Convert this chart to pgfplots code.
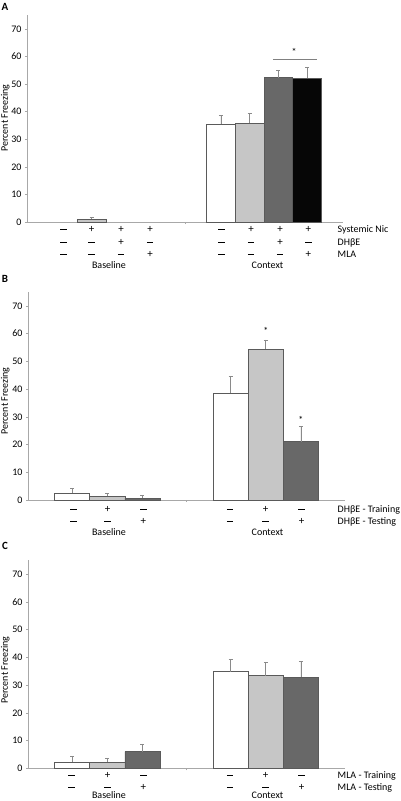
\documentclass[border=0pt]{standalone}
\usepackage{fontspec}
\setmainfont{Carlito}
\usepackage{pgfplots}
\pgfplotsset{compat=1.18}
\definecolor{lgray}{HTML}{C6C6C6}
\definecolor{dgray}{HTML}{686868}
\definecolor{nblack}{HTML}{060606}
\definecolor{edge}{HTML}{5A5A5A}
\definecolor{axgray}{HTML}{A8A8A8}
\definecolor{errgray}{HTML}{8A8A8A}
\newcommand\tf{\fontsize{10}{12}\selectfont}
\newcommand\mn{\rule[3.3pt]{6.5pt}{0.5pt}}
\newcommand\pl{\fontsize{11}{12}\selectfont +}
\pgfplotsset{
 panel/.style={
  scale only axis, anchor=south west, ymin=0, ymax=75,
  axis lines*=left, axis line style={axgray, line width=0.6pt},
  ytick={0,10,...,70}, tick style={axgray, line width=0.5pt}, tick align=outside, major tick length=2pt,
  xtick=\empty, extra x ticks={0}, extra x tick labels={},
  yticklabel style={font=\tf},
  /pgf/number format/assume math mode=true,
  ybar, bar width=1, clip=false,
 },
 bars/.style={draw=edge, line width=0.6pt, bar shift=0pt,
   error bars/.cd, y dir=plus, y explicit, error bar style={errgray, line width=0.6pt}},
}
\tikzset{pm/.style={anchor=center, text height=1.5ex, text depth=0.25ex, inner sep=0pt, font=\tf},
  gl/.style={anchor=base, inner sep=0pt, font=\tf},
  rl/.style={anchor=west, text height=1.5ex, text depth=0.25ex, inner sep=0pt, font=\tf}}
\begin{document}
\begin{tikzpicture}
\path[use as bounding box] (0pt,0pt) rectangle (400pt,-801pt);
% ---------- Panel A
\begin{axis}[panel, at={(27pt,-222pt)}, width=316pt, height=207pt, xmin=0, xmax=11,
  extra x ticks={5.5}]
\addplot[fill=white, bars] coordinates {(6.75,35.4) +- (0,3.3)};
\addplot[fill=lgray, bars] coordinates {(2.25,1.0) +- (0,0.8) (7.75,35.8) +- (0,3.6)};
\addplot[fill=dgray, bars] coordinates {(8.75,52.3) +- (0,2.6)};
\addplot[fill=nblack, bars] coordinates {(9.75,52.0) +- (0,4.0)};
\draw[gray, line width=0.6pt] (axis cs:8.56,58.9) -- (axis cs:10.09,58.9);
\node[font=\tf] at (axis cs:9.3,61.6) {*};
\end{axis}
% ---------- Panel B
\begin{axis}[panel, at={(28pt,-500pt)}, width=317pt, height=208pt, xmin=0, xmax=9,
  extra x ticks={4.5}]
\addplot[fill=white, bars] coordinates {(1.25,2.4) +- (0,1.8) (5.75,38.6) +- (0,6.1)};
\addplot[fill=lgray, bars] coordinates {(2.25,1.3) +- (0,1.0) (6.75,54.4) +- (0,3.3)};
\addplot[fill=dgray, bars] coordinates {(3.25,0.7) +- (0,1.0) (7.75,21.0) +- (0,5.6)};
\node[font=\tf] at (axis cs:6.75,60.8) {*};
\node[font=\tf] at (axis cs:7.75,29.0) {*};
\end{axis}
% ---------- Panel C
\begin{axis}[panel, at={(28pt,-768.3pt)}, width=317pt, height=208pt, xmin=0, xmax=9,
  extra x ticks={4.5}]
\addplot[fill=white, bars] coordinates {(1.25,2.2) +- (0,2.0) (5.75,34.9) +- (0,4.5)};
\addplot[fill=lgray, bars] coordinates {(2.25,2.2) +- (0,1.4) (6.75,33.4) +- (0,4.7)};
\addplot[fill=dgray, bars] coordinates {(3.25,6.0) +- (0,2.8) (7.75,32.9) +- (0,5.6)};
\end{axis}
% ---------- labels A
\foreach \x/\a/\b/\c in {63.5/\mn/\mn/\mn, 91.5/\pl/\mn/\mn, 121/\pl/\pl/\mn, 150/\pl/\mn/\pl, 221.7/\mn/\mn/\mn, 251/\pl/\mn/\mn, 280/\pl/\pl/\mn, 308.3/\pl/\mn/\pl}{
  \node[pm] at (\x pt,-230pt) {\a};
  \node[pm] at (\x pt,-242.7pt) {\b};
  \node[pm] at (\x pt,-255pt) {\c};
}
\node[rl] at (337.5pt,-230pt) {Systemic Nic};
\node[rl] at (337.5pt,-242.7pt) {DHβE};
\node[rl] at (337.5pt,-255pt) {MLA};
\node[gl] at (109pt,-268.5pt) {Baseline};
\node[gl] at (267.5pt,-268.5pt) {Context};
% ---------- labels B
\foreach \x/\a/\b in {73.3/\mn/\mn, 107.7/\pl/\mn, 143.3/\mn/\pl, 230/\mn/\mn, 265.7/\pl/\mn, 301.7/\mn/\pl}{
  \node[pm] at (\x pt,-510pt) {\a};
  \node[pm] at (\x pt,-521.7pt) {\b};
}
\node[rl] at (337.5pt,-510pt) {DHβE - Training};
\node[rl] at (337.5pt,-521.7pt) {DHβE - Testing};
\node[gl] at (109pt,-535pt) {Baseline};
\node[gl] at (267.5pt,-535pt) {Context};
% ---------- labels C
\foreach \x/\a/\b in {71.7/\mn/\mn, 107.7/\pl/\mn, 143.3/\mn/\pl, 230/\mn/\mn, 265.7/\pl/\mn, 301.7/\mn/\pl}{
  \node[pm] at (\x pt,-775.5pt) {\a};
  \node[pm] at (\x pt,-787.5pt) {\b};
}
\node[rl] at (337.5pt,-775.5pt) {MLA - Training};
\node[rl] at (337.5pt,-787.5pt) {MLA - Testing};
\node[gl] at (109pt,-798.8pt) {Baseline};
\node[gl] at (267.5pt,-798.8pt) {Context};
% ---------- panel letters and y labels
\node[font=\bfseries\fontsize{11}{13}\selectfont, inner sep=0pt] at (5pt,-6.5pt) {A};
\node[font=\bfseries\fontsize{11}{13}\selectfont, inner sep=0pt] at (5pt,-279pt) {B};
\node[font=\bfseries\fontsize{11}{13}\selectfont, inner sep=0pt] at (5pt,-546pt) {C};
\node[pm, rotate=90] at (5pt,-118pt) {Percent Freezing};
\node[pm, rotate=90] at (5pt,-401pt) {Percent Freezing};
\node[pm, rotate=90] at (5pt,-670pt) {Percent Freezing};
\end{tikzpicture}
\end{document}
